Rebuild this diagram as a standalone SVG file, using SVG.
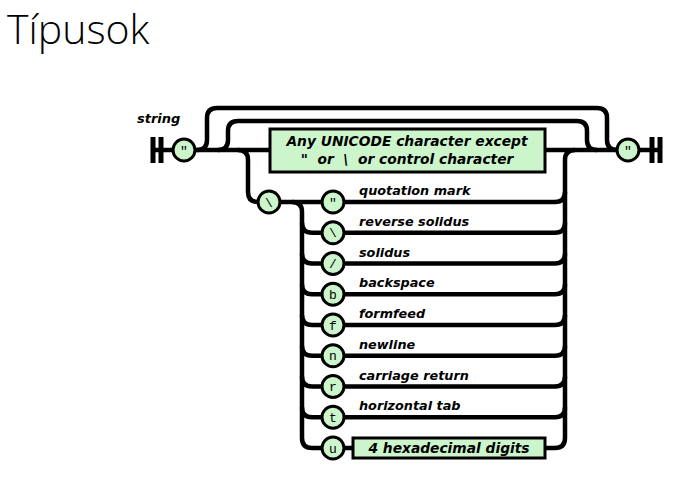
<svg xmlns="http://www.w3.org/2000/svg" width="674" height="480" viewBox="0 0 674 480">
<style>
.ln{fill:none;stroke:#000;stroke-width:4.5;stroke-linecap:butt}
.bar{fill:none;stroke:#000;stroke-width:5}
.cir{fill:#ccf5cc;stroke:#000;stroke-width:3}
.box{fill:#ccf5cc;stroke:#000;stroke-width:3}
.lbl{font-family:"DejaVu Sans",Verdana,sans-serif;font-weight:bold;font-style:italic;font-size:12.8px;fill:#000}
.ct{font-family:"Liberation Mono","Courier New",monospace;font-size:13px;fill:#000;text-anchor:middle}
.bt{font-family:"DejaVu Sans",Verdana,sans-serif;font-weight:bold;font-style:italic;font-size:13.8px;fill:#000;text-anchor:middle}
</style>
<rect width="674" height="480" fill="#fff"/>
<text x="7" y="44" font-family="'Open Sans','Noto Sans',sans-serif" font-weight="300" font-size="41" fill="#000">Típusok</text>
<text x="137" y="123" class="lbl" style="font-size:13px">string</text>
<g id="connectors">
<path class="ln" d="M155 150 H620"/>
<path class="bar" d="M153 137 V163 M161 137 V163"/>
<path class="bar" d="M652 137 V163 M660 137 V163"/>
<path class="ln" d="M638 150 H660"/>
<path class="ln" d="M197 150 Q207 150 207 140 V118 Q207 108 217 108 H597 Q607 108 607 118 V140 Q607 150 617 150"/>
<path class="ln" d="M218 150 Q228 150 228 140 V131 Q228 121 238 121 H577 Q587 121 587 131 V140 Q587 150 597 150"/>
<path class="ln" d="M238 150 Q248 150 248 160 V192 Q248 202 258 202 H343"/>
<path class="ln" d="M292 202 Q302 202 302 212 V438 Q302 448 312 448 H352"/>
<path class="ln" d="M302 222.75 Q302 232.75 312 232.75 H555 Q565 232.75 565 222.75"/>
<path class="ln" d="M302 253.5 Q302 263.5 312 263.5 H555 Q565 263.5 565 253.5"/>
<path class="ln" d="M302 284.25 Q302 294.25 312 294.25 H555 Q565 294.25 565 284.25"/>
<path class="ln" d="M302 315 Q302 325 312 325 H555 Q565 325 565 315"/>
<path class="ln" d="M302 345.75 Q302 355.75 312 355.75 H555 Q565 355.75 565 345.75"/>
<path class="ln" d="M302 376.5 Q302 386.5 312 386.5 H555 Q565 386.5 565 376.5"/>
<path class="ln" d="M302 407.25 Q302 417.25 312 417.25 H555 Q565 417.25 565 407.25"/>
<path class="ln" d="M343 202 H555 Q565 202 565 192"/>
<path class="ln" d="M545 448 H555 Q565 448 565 438 V160 Q565 150 575 150"/>
</g>
<g id="open-quote"><circle class="cir" cx="184" cy="150" r="11"/><text class="ct" x="184" y="155">"</text></g>
<g id="close-quote"><circle class="cir" cx="628" cy="150" r="11"/><text class="ct" x="628" y="155">"</text></g>
<g id="any-char"><rect class="box" x="270" y="129" width="275" height="43"/>
<text class="bt" x="407" y="146">Any UNICODE character except</text>
<text class="bt" x="407" y="164" xml:space="preserve">"  or  \  or control character</text></g>
<g id="escape"><circle class="cir" cx="269" cy="202" r="11"/><text class="ct" x="269" y="206.5">\</text></g>
<g id="opt-quote"><circle class="cir" cx="333" cy="202" r="11"/><text class="ct" x="333" y="207">"</text><text class="lbl" x="359" y="195">quotation mark</text></g>
<g id="opt-rsolidus"><circle class="cir" cx="333" cy="232.75" r="11"/><text class="ct" x="333" y="237.25">\</text><text class="lbl" x="359" y="225.75">reverse solidus</text></g>
<g id="opt-solidus"><circle class="cir" cx="333" cy="263.5" r="11"/><text class="ct" x="333" y="268">/</text><text class="lbl" x="359" y="256.5">solidus</text></g>
<g id="opt-b"><circle class="cir" cx="333" cy="294.25" r="11"/><text class="ct" x="333" y="298.75">b</text><text class="lbl" x="359" y="287.25">backspace</text></g>
<g id="opt-f"><circle class="cir" cx="333" cy="325" r="11"/><text class="ct" x="333" y="329.5">f</text><text class="lbl" x="359" y="318">formfeed</text></g>
<g id="opt-n"><circle class="cir" cx="333" cy="355.75" r="11"/><text class="ct" x="333" y="360.25">n</text><text class="lbl" x="359" y="348.75">newline</text></g>
<g id="opt-r"><circle class="cir" cx="333" cy="386.5" r="11"/><text class="ct" x="333" y="391">r</text><text class="lbl" x="359" y="379.5">carriage return</text></g>
<g id="opt-t"><circle class="cir" cx="333" cy="417.25" r="11"/><text class="ct" x="333" y="421.75">t</text><text class="lbl" x="359" y="410.25">horizontal tab</text></g>
<g id="opt-u"><circle class="cir" cx="333" cy="448" r="11"/><text class="ct" x="333" y="452.5">u</text></g>
<g id="hex"><rect class="box" x="353" y="438" width="192" height="20"/><text class="bt" x="449" y="453">4 hexadecimal digits</text></g>
</svg>
